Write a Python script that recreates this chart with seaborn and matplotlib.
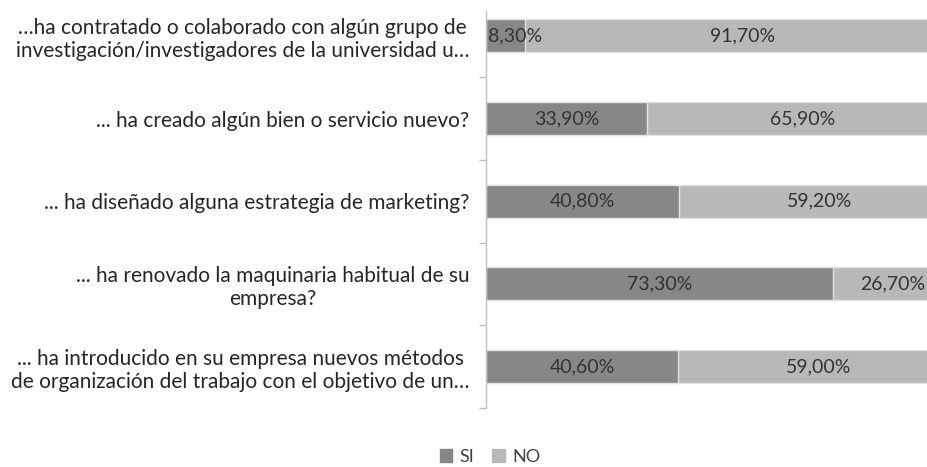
import matplotlib
matplotlib.use('Agg')
import matplotlib.pyplot as plt
import matplotlib.patches as mpatches
import pandas as pd
import seaborn as sns

# Data
preguntas = [
    '…ha contratado o colaborado con algún grupo de\ninvestigación/investigadores de la universidad u…',
    '... ha creado algún bien o servicio nuevo?',
    '... ha diseñado alguna estrategia de marketing?',
    '... ha renovado la maquinaria habitual de su\nempresa?',
    '... ha introducido en su empresa nuevos métodos\nde organización del trabajo con el objetivo de un…',
]
si = [8.30, 33.90, 40.80, 73.30, 40.60]
no = [91.70, 65.90, 59.20, 26.70, 59.00]

df = pd.DataFrame({'pregunta': preguntas, 'SI': si, 'NO': no})
df['total'] = df['SI'] + df['NO']

color_si = '#878787'
color_no = '#b8b8b8'

sns.set_style('white')
plt.rcParams['font.family'] = ['Lato', 'DejaVu Sans']

fig = plt.figure(figsize=(9.27, 4.67), dpi=100)
W, H = 927, 467
# axes spans past the right edge, like the cropped original
ax = fig.add_axes([486 / W, 1 - 408 / H, 474 / W, (408 - 11) / H])

sns.barplot(data=df, x='total', y='pregunta', color=color_no, width=0.4,
            orient='h', edgecolor='#e2e2e2', linewidth=1, ax=ax)
sns.barplot(data=df, x='SI', y='pregunta', color=color_si, width=0.4,
            orient='h', edgecolor='#e2e2e2', linewidth=1, ax=ax)

ax.set_xlim(0, 100)
ax.set_ylim(4.5, -0.3)
ax.set_xlabel('')
ax.set_ylabel('')
ax.set_xticks([])

# value labels (kept inside the visible part of the figure)
for i, (s, n) in enumerate(zip(si, no)):
    ax.text(max(s / 2, 6.1), i, f'{s:.2f}%'.replace('.', ','), ha='center', va='center',
            fontsize=14, color='#333333')
    ax.text(min(s + n / 2, 85.9), i, f'{n:.2f}%'.replace('.', ','), ha='center', va='center',
            fontsize=14, color='#333333')

ax.set_yticks(range(len(preguntas)))
ax.set_yticklabels(preguntas, fontsize=15, color='#262626', multialignment='center',
                   linespacing=1.2)
ax.tick_params(axis='y', which='major', left=False, length=0, pad=12)
ax.set_yticks([0.5, 1.5, 2.5, 3.5, 4.5], minor=True)
ax.tick_params(axis='y', which='minor', left=True, length=5, width=1,
               color='#bfbfbf', direction='out')

for side in ['top', 'right', 'bottom']:
    ax.spines[side].set_visible(False)
ax.spines['left'].set_color('#bfbfbf')
ax.spines['left'].set_linewidth(1)

handles = [mpatches.Patch(color=color_si, label='SI'),
           mpatches.Patch(color=color_no, label='NO')]
fig.legend(handles=handles, loc='center', bbox_to_anchor=(490 / W, 1 - 457 / H),
           ncol=2, frameon=False, fontsize=13, handlelength=0.7, handleheight=0.7,
           handletextpad=0.4, columnspacing=1.0, labelcolor='#404040')

fig.savefig('out.png', dpi=100)
